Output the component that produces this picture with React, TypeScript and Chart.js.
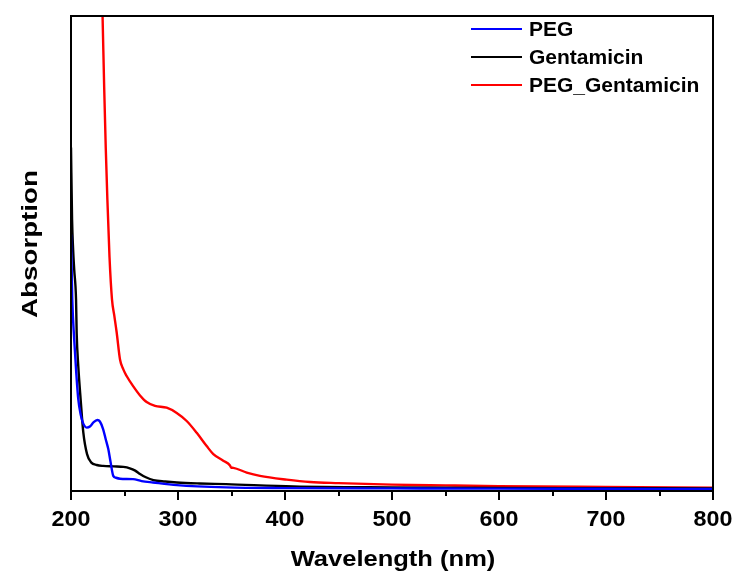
import React, { useEffect, useRef } from "react";
import { Chart, registerables } from "chart.js";

Chart.register(...registerables);

const pegX = [200, 201.2, 203, 205, 206.8, 209, 211, 214.7, 218, 221, 224.6, 227, 230, 232.5, 234.9, 237, 239.5, 242, 245.8, 258, 266, 276.6, 299, 345, 400, 500, 600, 700, 800];
const pegY = [53.8, 40.1, 31.6, 24.3, 19.0, 15.8, 14.1, 13.0, 13.3, 14.1, 14.6, 14.3, 12.7, 10.5, 8.4, 5.7, 2.8, 2.4, 2.2, 2.1, 1.7, 1.4, 0.84, 0.36, 0.21, 0.15, 0.1, 0.07, 0.04];

const gentX = [200, 201, 202, 203, 204.7, 205.3, 206.8, 209, 211.5, 215, 219, 224, 230, 240, 249, 255, 260, 264.5, 270, 277, 288, 299, 320, 345, 408, 500, 600, 700, 800];
const gentY = [72.2, 57, 50.6, 46.4, 40.1, 33, 26, 19, 12.0, 7.4, 5.6, 5.1, 4.9, 4.8, 4.7, 4.4, 3.9, 3.2, 2.5, 1.9, 1.6, 1.4, 1.2, 1.05, 0.57, 0.36, 0.25, 0.2, 0.15];

const pgX = [225, 229.5, 231, 232.5, 234, 236, 238.3, 240.5, 242.7, 245.8, 248.9, 252, 258.2, 264.5, 270.7, 278.5, 289.4, 298.8, 308.1, 317.5, 326.8, 333, 342.3, 348.6, 349.5, 351.7, 364.2, 376.6, 401.6, 423.4, 450, 500, 550, 600, 700, 800];
const pgY = [140, 100, 85, 72, 61.2, 49, 40.1, 36.6, 33.1, 27.4, 25.3, 23.9, 21.7, 19.8, 18.4, 17.6, 17.2, 16.1, 14.4, 11.9, 9.1, 7.4, 6.0, 5.0, 4.6, 4.5, 3.5, 2.8, 2.0, 1.5, 1.27, 0.95, 0.78, 0.63, 0.46, 0.32];

const seriesNames = ["PEG", "Gentamicin", "PEG_Gentamicin"];
const seriesColors = ["#0000FF", "#000000", "#FF0000"];
const xTickValues = [200, 300, 400, 500, 600, 700, 800];
const xMinorValues = [250, 350, 450, 550, 650, 750];
const xTitle = "Wavelength (nm)";
const yTitle = "Absorption";

const toPts = (xs: number[], ys: number[]) => xs.map((x, i) => ({ x, y: ys[i] }));

const FONT = "'Liberation Sans', Arial, sans-serif";

const decorPlugin = {
  id: "decor",
  afterDraw(chart: any) {
    const ctx = chart.ctx as CanvasRenderingContext2D;
    const { left, right, top, bottom } = chart.chartArea;
    const xs = chart.scales.x;
    ctx.save();
    // frame
    ctx.strokeStyle = "#000";
    ctx.lineWidth = 2;
    ctx.strokeRect(left, top, right - left, bottom - top);
    // ticks
    ctx.lineWidth = 2;
    ctx.beginPath();
    xTickValues.forEach((v) => {
      const px = Math.round(xs.getPixelForValue(v));
      ctx.moveTo(px, bottom);
      ctx.lineTo(px, bottom + 9);
    });
    xMinorValues.forEach((v) => {
      const px = Math.round(xs.getPixelForValue(v));
      ctx.moveTo(px, bottom);
      ctx.lineTo(px, bottom + 5);
    });
    ctx.stroke();
    // tick labels
    ctx.fillStyle = "#000";
    ctx.font = `bold 22px ${FONT}`;
    ctx.textAlign = "center";
    ctx.textBaseline = "alphabetic";
    xTickValues.forEach((v) => {
      const px = xs.getPixelForValue(v);
      ctx.save();
      ctx.translate(px, 525.5);
      ctx.scale(1.06, 1);
      ctx.fillText(String(v), 0, 0);
      ctx.restore();
    });
    // x title
    ctx.save();
    ctx.translate(393, 565.5);
    ctx.scale(1.16, 1);
    ctx.font = `bold 22px ${FONT}`;
    ctx.fillText(xTitle, 0, 0);
    ctx.restore();
    // y title
    ctx.save();
    ctx.translate(31, 244);
    ctx.rotate(-Math.PI / 2);
    ctx.scale(1.26, 1);
    ctx.textBaseline = "middle";
    ctx.font = `bold 22px ${FONT}`;
    ctx.fillText(yTitle, 0, 0);
    ctx.restore();
    // legend
    const rowsY = [29, 57, 85];
    ctx.font = `bold 21px ${FONT}`;
    ctx.textAlign = "left";
    ctx.textBaseline = "middle";
    seriesNames.forEach((name, i) => {
      ctx.strokeStyle = seriesColors[i];
      ctx.lineWidth = 2;
      ctx.beginPath();
      ctx.moveTo(471, rowsY[i]);
      ctx.lineTo(522, rowsY[i]);
      ctx.stroke();
      ctx.fillStyle = "#000";
      ctx.fillText(name, 529, rowsY[i] + 1);
    });
    ctx.restore();
  },
};

export default function App() {
  const ref = useRef<HTMLCanvasElement | null>(null);
  useEffect(() => {
    document.body.style.margin = "0";
    const canvas = ref.current!;
    const chart = new Chart(canvas, {
      type: "line",
      data: {
        datasets: [
          { label: seriesNames[0], data: toPts(pegX, pegY), borderColor: seriesColors[0] },
          { label: seriesNames[1], data: toPts(gentX, gentY), borderColor: seriesColors[1] },
          { label: seriesNames[2], data: toPts(pgX, pgY), borderColor: seriesColors[2] },
        ].map((d) => ({
          ...d,
          borderWidth: 2.4,
          pointRadius: 0,
          fill: false,
          cubicInterpolationMode: "monotone" as const,
        })),
      },
      options: {
        responsive: false,
        animation: false,
        devicePixelRatio: 1,
        layout: { padding: { left: 71, right: 23, top: 16, bottom: 80 } },
        plugins: { legend: { display: false }, tooltip: { enabled: false } },
        scales: {
          x: { type: "linear", min: 200, max: 800, display: false },
          y: { type: "linear", min: -0.4, max: 100, display: false },
        },
      },
      plugins: [decorPlugin],
    });
    return () => chart.destroy();
  }, []);
  return (
    <div style={{ position: "absolute", left: 0, top: 0, width: 736, height: 571, background: "#fff" }}>
      <canvas ref={ref} width={736} height={571} />
    </div>
  );
}
